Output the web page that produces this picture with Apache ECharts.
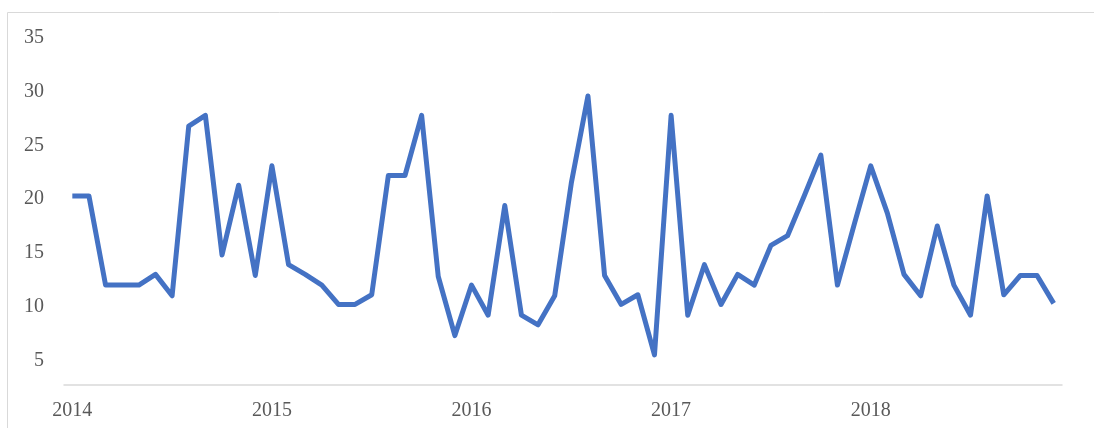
<!DOCTYPE html>
<html>
<head>
<meta charset="utf-8">
<script src="https://cdn.jsdelivr.net/npm/echarts@6/dist/echarts.min.js"></script>
<style>
  html, body { margin: 0; padding: 0; background: #fff; }
  #chart { width: 1094px; height: 428px; }
</style>
</head>
<body>
<div id="chart"></div>
<script>
// 月份（2014-01 到 2018-12）
const years = ['2014', '2015', '2016', '2017', '2018'];
const months = [];
years.forEach(y => {
  for (let m = 1; m <= 12; m++) months.push(y + '-' + String(m).padStart(2, '0'));
});

// 每月数值
const values = [
  20.3, 20.3, 12.0, 12.0, 12.0, 13.0, 11.0, 26.8, 27.8, 14.8, 21.3, 12.9,
  23.1, 13.9, 13.0, 12.0, 10.2, 10.2, 11.1, 22.2, 22.2, 27.8, 12.8, 7.3,
  12.0, 9.2, 19.4, 9.2, 8.3, 11.0, 21.5, 29.6, 12.9, 10.2, 11.1, 5.5,
  27.8, 9.2, 13.9, 10.2, 13.0, 12.0, 15.7, 16.6, 20.3, 24.1, 12.0, 17.6,
  23.1, 18.7, 13.0, 11.0, 17.5, 12.0, 9.2, 20.3, 11.1, 12.9, 12.9, 10.3
];

// 纵轴刻度
const yTicks = [5, 10, 15, 20, 25, 30, 35];

const chart = echarts.init(document.getElementById('chart'));

const labelFont = {
  color: '#595959',
  fontFamily: 'Liberation Serif, Times New Roman, serif',
  fontSize: 20
};

chart.setOption({
  animation: false,
  graphic: [{
    type: 'rect',
    shape: { x: 7.5, y: 12.5, width: 1200, height: 600 },
    style: { fill: null, stroke: '#d9d9d9', lineWidth: 1 },
    silent: true
  }],
  grid: { left: 64, right: 32, top: 38, bottom: 43 },
  xAxis: {
    type: 'category',
    data: months,
    boundaryGap: true,
    axisLine: { lineStyle: { color: '#d9d9d9', width: 1.5 } },
    axisTick: { show: false },
    axisLabel: {
      ...labelFont,
      margin: 16,
      interval: (index) => index % 12 === 0,
      formatter: (v) => v.slice(0, 4)
    }
  },
  yAxis: {
    type: 'value',
    min: 2.7,
    max: 35,
    axisLine: { show: false },
    axisTick: { show: false },
    splitLine: { show: false },
    axisLabel: {
      ...labelFont,
      margin: 20,
      customValues: yTicks
    }
  },
  series: [{
    type: 'line',
    data: values,
    symbol: 'none',
    clip: false,
    lineStyle: { color: '#4472c4', width: 5, join: 'round' }
  }]
});
</script>
</body>
</html>
